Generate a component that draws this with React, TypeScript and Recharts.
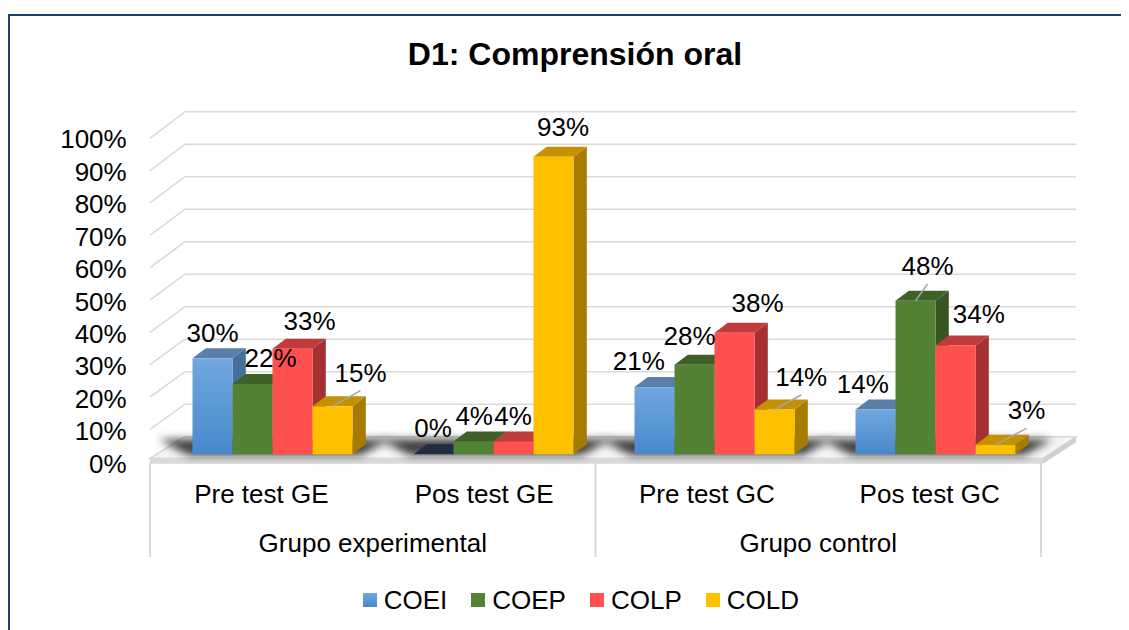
import React from 'react';
import { BarChart, Bar, XAxis, YAxis, CartesianGrid, LabelList, Legend } from 'recharts';

// ---------- data ----------
const categories = ['Pre test GE', 'Pos test GE', 'Pre test GC', 'Pos test GC'];
const groups = ['Grupo experimental', 'Grupo experimental', 'Grupo control', 'Grupo control'];
const seriesNames = ['COEI', 'COEP', 'COLP', 'COLD'];
const COEI = [0.30, 0.0, 0.21, 0.14];
const COEP = [0.22, 0.04, 0.28, 0.48];
const COLP = [0.33, 0.04, 0.38, 0.34];
const COLD = [0.15, 0.93, 0.14, 0.03];
const yTicks = [0, 0.1, 0.2, 0.3, 0.4, 0.5, 0.6, 0.7, 0.8, 0.9, 1];
const yTickLabels = ['0%', '10%', '20%', '30%', '40%', '50%', '60%', '70%', '80%', '90%', '100%'];
const title = 'D1: Comprensión oral';

const seriesValues: Record<string, number[]> = { COEI, COEP, COLP, COLD };
const chartData = categories.map((cat, i) => ({
  cat,
  grp: groups[i],
  COEI: COEI[i],
  COEP: COEP[i],
  COLP: COLP[i],
  COLD: COLD[i],
}));

// ---------- styling / layout ----------
const FONT = '"Liberation Sans", Arial, Helvetica, sans-serif';
const W = 1121;
const H = 622;
const PLOT_LEFT = 153.5;
const PLOT_TOP = 126.3;
const PLOT_W = 884;
const PLOT_H = 320;
const Y_AXIS_W = 100;
const X_AXIS_H = 50;
const BASE_Y = PLOT_TOP + PLOT_H;
const BAND = PLOT_W / categories.length;
const DX = 13.3; // 3D depth offset
const DY = 10;

const COLORS: Record<string, { front: string; grad?: [string, string]; top: string; side: string; zero: string }> = {
  COEI: { front: '#5B9BD5', grad: ['#70A8DF', '#4888CB'], top: '#5A7FAA', side: '#45709E', zero: '#1F2D3F' },
  COEP: { front: '#548235', top: '#3E6128', side: '#375623', zero: '#2E4A1E' },
  COLP: { front: '#FF5050', top: '#C23B3C', side: '#A53031', zero: '#8A2728' },
  COLD: { front: '#FFC000', top: '#C49200', side: '#A67C00', zero: '#8A6800' },
};

// label nudges relative to bar front top-center (dx, baseline dy)
const LABEL_OFFSET: Record<string, [number, number][]> = {
  COEI: [[0, -16.6], [-0.5, -17.6], [-15.7, -17], [-12.7, -16.8]],
  COEP: [[18, -17], [0.7, -16.5], [-5, -19.7], [12, -25.7]],
  COLP: [[17, -18.7], [-0.5, -16.5], [23, -21], [23.3, -22.8]],
  COLD: [[28, -24.6], [9.5, -20.7], [26.7, -23.5], [31, -25.4]],
};
const LEADER: Record<string, boolean[]> = {
  COEI: [false, false, false, false],
  COEP: [false, false, false, true],
  COLP: [false, false, false, false],
  COLD: [true, false, true, true],
};

const frontX = (x: number) => PLOT_LEFT - 11.5 + (x - PLOT_LEFT) * 1.008;

// ---------- grid (3D wall + floor) ----------
const WallLine = (p: any) => {
  const y1 = p.y1;
  const v = (BASE_Y - y1) / PLOT_H;
  const back = y1 - 17.6 - 5 * v;
  const front = y1 + 7.4 - 3.4 * v;
  const left = PLOT_LEFT - 11.5;
  const backLeft = PLOT_LEFT + 23.5;
  const backRight = PLOT_LEFT + PLOT_W + 30.5;
  if (v < 0.001) {
    const fy = y1 + 4;
    const fr = PLOT_LEFT + PLOT_W - 2.5;
    return (
      <g key={p.key}>
        <polygon
          points={`${left},${fy} ${fr},${fy} ${backRight},${back} ${backLeft},${back}`}
          fill="#F5F5F5"
          stroke="#D9D9D9"
          strokeWidth={1.5}
        />
        <rect x={left} y={fy} width={fr - left} height={5.5} fill="#DADADA" />
        <polygon points={`${fr},${fy} ${backRight},${back} ${backRight},${back + 5.5} ${fr},${fy + 5.5}`} fill="#CFCFCF" />
      </g>
    );
  }
  return (
    <path
      key={p.key}
      d={`M${left},${front} L${backLeft},${back} L${backRight},${back}`}
      stroke="#D9D9D9"
      strokeWidth={1.6}
      fill="none"
    />
  );
};

// ---------- 3D bar ----------
const makeShape = (name: string, seriesIndex: number) => (props: any) => {
  const { x, y, width: w, height: hRaw, index } = props;
  const h = Math.max(0, hRaw || 0);
  const c = COLORS[name];
  const b = y + h;
  const gid = `grad-${name}-${index}`;
  const fid = `shadow-${index}`;
  const parts: any[] = [];
  if (seriesIndex === 0) {
    const x0 = x;
    const x1 = x + w * seriesNames.length;
    parts.push(
      <g key="sh">
        <defs>
          <filter id={fid} x="-20%" y="-100%" width="140%" height="300%">
            <feGaussianBlur stdDeviation={4} />
          </filter>
        </defs>
        <polygon
          points={`${x0 - 4},${b + 1} ${x1 + 8},${b + 1} ${x1 + DX + 24},${b - DY - 5} ${x0 - 34},${b - DY - 5}`}
          fill="#000"
          opacity={0.75}
          filter={`url(#${fid})`}
        />
      </g>
    );
  }
  if (h < 0.5) {
    parts.push(
      <polygon
        key="t0"
        points={`${x},${b} ${x + DX},${b - DY} ${x + w + DX},${b - DY} ${x + w},${b}`}
        fill={c.zero}
      />
    );
    return <g>{parts}</g>;
  }
  parts.push(
    <polygon
      key="side"
      points={`${x + w},${y} ${x + w + DX},${y - DY} ${x + w + DX},${b - DY} ${x + w},${b}`}
      fill={c.side}
    />
  );
  parts.push(
    <polygon
      key="top"
      points={`${x},${y} ${x + DX},${y - DY} ${x + w + DX},${y - DY} ${x + w},${y}`}
      fill={c.top}
    />
  );
  if (c.grad) {
    parts.push(
      <defs key="d">
        <linearGradient id={gid} x1="0" y1="0" x2="0" y2="1">
          <stop offset="0%" stopColor={c.grad[0]} />
          <stop offset="100%" stopColor={c.grad[1]} />
        </linearGradient>
      </defs>
    );
  }
  parts.push(<rect key="front" x={x} y={y} width={w} height={h} fill={c.grad ? `url(#${gid})` : c.front} />);
  return <g>{parts}</g>;
};

// ---------- labels ----------
const makeLabel = (name: string) => (props: any) => {
  const vb = props.viewBox || {};
  const x = props.x ?? vb.x;
  const y = props.y ?? vb.y;
  const width = props.width ?? vb.width;
  const index = props.index ?? 0;
  const value = props.value ?? seriesValues[name][index];
  const cx = x + width / 2;
  const [dx, dy] = LABEL_OFFSET[name][index] || [0, -18];
  const lx = cx + dx;
  const ly = y + dy;
  const leader = LEADER[name][index];
  return (
    <g key={`lbl-${name}-${index}`}>
      {leader && <line x1={cx} y1={y} x2={lx} y2={ly + 9} stroke="#A6A6A6" strokeWidth={1.5} />}
      <text x={lx} y={ly} textAnchor="middle" fontSize={26} fontFamily={FONT} fill="#000">
        {`${Math.round(Number(value) * 100)}%`}
      </text>
    </g>
  );
};

// ---------- axes ticks ----------
const YTick = (p: any) => {
  const v = p.payload.value;
  const i = yTicks.indexOf(v);
  return (
    <text x={PLOT_LEFT - 34.8} y={p.y + 18.4 - 4.4 * v} textAnchor="end" fontSize={26} fontFamily={FONT} fill="#000">
      {i >= 0 ? yTickLabels[i] : `${Math.round(v * 100)}%`}
    </text>
  );
};

const CatTick = (p: any) => {
  const i = p.payload.index ?? p.index;
  const x = p.x;
  const firstOfGroup = i === 0 || groups[i] !== groups[i - 1];
  const last = i === categories.length - 1;
  return (
    <g>
      {firstOfGroup && (
        <line x1={frontX(x - BAND / 2)} x2={frontX(x - BAND / 2)} y1={BASE_Y + 8.7} y2={BASE_Y + 102.7} stroke="#D9D9D9" strokeWidth={2} />
      )}
      {last && (
        <line x1={frontX(x + BAND / 2)} x2={frontX(x + BAND / 2)} y1={BASE_Y + 8.7} y2={BASE_Y + 102.7} stroke="#D9D9D9" strokeWidth={2} />
      )}
      <text x={frontX(x)} y={BASE_Y + 49} textAnchor="middle" fontSize={26} fontFamily={FONT} fill="#000">
        {p.payload.value}
      </text>
    </g>
  );
};

const GrpTick = (p: any) => {
  const i = p.payload.index ?? p.index;
  const firstOfGroup = i === 0 || groups[i] !== groups[i - 1];
  if (!firstOfGroup) return <g />;
  let n = 1;
  while (i + n < groups.length && groups[i + n] === groups[i]) n++;
  const cx = p.x + ((n - 1) * BAND) / 2;
  return (
    <text x={frontX(cx)} y={BASE_Y + 97.4} textAnchor="middle" fontSize={26} fontFamily={FONT} fill="#000">
      {p.payload.value}
    </text>
  );
};

const LegendContent = (props: any) => {
  const payload = [...(props.payload || [])].sort(
    (a: any, b: any) => seriesNames.indexOf(a.value) - seriesNames.indexOf(b.value)
  );
  return (
    <div style={{ display: 'flex', alignItems: 'center', height: 30, fontFamily: FONT, fontSize: 26, lineHeight: '30px', whiteSpace: 'nowrap' }}>
      {payload.map((e: any, i: number) => (
        <div key={i} style={{ display: 'flex', alignItems: 'center', marginRight: 24 }}>
          <span
            style={{
              display: 'inline-block',
              width: 14,
              height: 14,
              marginRight: 7,
              background:
                COLORS[e.value] && COLORS[e.value].grad
                  ? `linear-gradient(${COLORS[e.value].grad![0]}, ${COLORS[e.value].grad![1]})`
                  : e.color,
            }}
          />
          <span style={{ color: '#000' }}>{e.value}</span>
        </div>
      ))}
    </div>
  );
};

export default function App() {
  return (
    <div style={{ position: 'relative', width: W, height: H, fontFamily: FONT }}>
      <div
        style={{
          position: 'absolute',
          left: 0,
          top: 6,
          width: W,
          height: H - 6,
          borderTop: '2px solid #1F3F7A',
          borderLeft: '2px solid #1F3F7A',
          boxSizing: 'border-box',
        }}
      />
      <div
        style={{
          position: 'absolute',
          left: 267,
          top: 26.2,
          width: 600,
          textAlign: 'center',
          fontSize: 32,
          lineHeight: '40px',
          fontWeight: 'bold',
          color: '#000',
          fontFamily: FONT,
        }}
      >
        {title}
      </div>
      <BarChart
        width={W}
        height={H}
        data={chartData}
        margin={{ top: PLOT_TOP, left: PLOT_LEFT - Y_AXIS_W, right: W - PLOT_LEFT - PLOT_W, bottom: H - BASE_Y - 2 * X_AXIS_H }}
        barGap={0}
        barSize={40}
        style={{ position: 'absolute', left: 0, top: 0 }}
      >
        <CartesianGrid horizontal={WallLine} vertical={false} />
        <YAxis
          type="number"
          domain={[0, 1]}
          ticks={yTicks}
          interval={0}
          width={Y_AXIS_W}
          axisLine={false}
          tickLine={false}
          tickSize={0}
          tickMargin={0}
          tick={YTick}
        />
        <XAxis
          xAxisId="cat"
          dataKey="cat"
          height={X_AXIS_H}
          axisLine={false}
          tickLine={false}
          tickSize={0}
          tickMargin={0}
          interval={0}
          tick={CatTick}
        />
        <XAxis
          xAxisId="grp"
          dataKey="grp"
          height={X_AXIS_H}
          axisLine={false}
          tickLine={false}
          tickSize={0}
          tickMargin={0}
          interval={0}
          tick={GrpTick}
        />
        {seriesNames.map((name, si) => (
          <Bar
            key={name}
            dataKey={name}
            name={name}
            xAxisId="cat"
            fill={COLORS[name].front}
            isAnimationActive={false}
            shape={makeShape(name, si)}
          >
            <LabelList dataKey={name} content={makeLabel(name)} />
          </Bar>
        ))}
        <Legend
          layout="horizontal"
          verticalAlign="middle"
          align="center"
          wrapperStyle={{ top: 577.3, left: 354.7, width: 520, height: 30 }}
          content={LegendContent}
        />
      </BarChart>
    </div>
  );
}
